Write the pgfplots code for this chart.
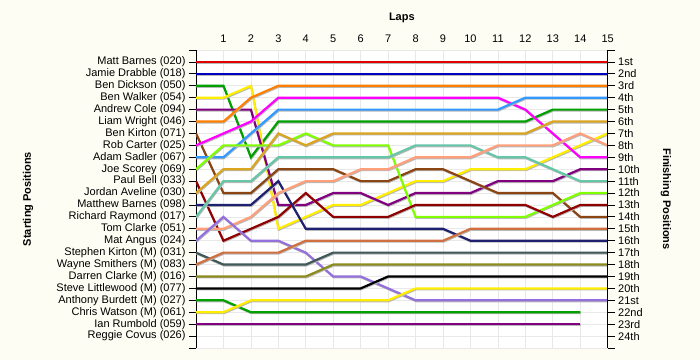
\documentclass[border=0pt]{standalone}
\usepackage{pgfplots}
\pgfplotsset{compat=1.18}
\usepackage{pgfplotstable}
\usepackage{fontspec}
\setmainfont{Liberation Sans}

\definecolor{cream}{HTML}{FEFDF3}
\definecolor{cRed}{HTML}{E00000}
\definecolor{cBlue}{HTML}{0000C0}
\definecolor{cOrange}{HTML}{FF8000}
\definecolor{cLBlue}{HTML}{3399FF}
\definecolor{cGreen}{HTML}{00A000}
\definecolor{cGold}{HTML}{DAA520}
\definecolor{cYellow}{HTML}{FFEE00}
\definecolor{cSalmon}{HTML}{FFA07A}
\definecolor{cMagenta}{HTML}{FF00FF}
\definecolor{cPurple}{HTML}{800080}
\definecolor{cTeal}{HTML}{66C6A8}
\definecolor{cLime}{HTML}{80FF00}
\definecolor{cDRed}{HTML}{900000}
\definecolor{cBrown}{HTML}{8B4513}
\definecolor{cSienna}{HTML}{D07040}
\definecolor{cNavy}{HTML}{202070}
\definecolor{cSlate}{HTML}{405858}
\definecolor{cOlive}{HTML}{8B8B20}
\definecolor{cLav}{HTML}{9370DB}

\pgfplotstableread{
lap MB JD BD BW AC LW BK RC AS JS PB JA MBa RR TC MA SK WS DC SL AB CW IR
0  1 2 3 4 5 6 7 8 9 10 11 12 13 14 15 16 17 18 19 20 21 22 23
1  1 2 3 4 5 6 12 7 9 8 16 10 13 11 15 14 18 17 19 20 21 22 23
2  1 2 9 3 5 4 12 6 7 8 15 10 13 11 14 16 18 17 19 20 22 21 23
3  1 2 6 15 13 3 10 4 5 8 14 7 11 9 12 16 18 17 19 20 22 21 23
4  1 2 6 14 13 3 10 4 5 7 12 8 15 9 11 17 18 16 19 20 22 21 23
5  1 2 6 13 12 3 10 4 5 8 14 7 15 9 11 19 17 16 18 20 22 21 23
6  1 2 6 13 12 3 11 4 5 8 14 7 15 9 10 19 17 16 18 20 22 21 23
7  1 2 6 12 13 3 11 4 5 8 14 7 15 9 10 20 17 16 18 19 22 21 23
8  1 2 6 11 12 3 10 4 5 14 13 7 15 8 9 21 17 16 18 19 22 20 23
9  1 2 6 11 12 3 10 4 5 14 13 7 15 8 9 21 17 16 18 19 22 20 23
10 1 2 6 10 12 3 11 4 5 14 13 7 16 8 9 21 17 15 18 19 22 20 23
11 1 2 6 10 11 3 12 4 5 14 13 7 16 9 8 21 17 15 18 19 22 20 23
12 1 2 6 10 11 3 12 5 4 14 13 7 16 9 8 21 17 15 18 19 22 20 23
13 1 2 5 9 11 3 12 7 4 13 14 6 16 10 8 21 17 15 18 19 22 20 23
14 1 2 5 8 10 3 14 9 4 12 13 6 16 11 7 21 17 15 18 19 22 20 23
15 1 2 5 7 10 3 14 9 4 12 13 6 16 11 8 21 17 15 18 19 nan 20 nan
}\laps

\newcommand{\drv}[2]{%
  \addplot[black!28, line width=1.8bp, xshift=0.6bp, yshift=-1.1bp, forget plot] table[x=lap,y=#2]{\laps};
  \addplot[#1, line width=2.2bp] table[x=lap,y=#2]{\laps};
}

\newcommand{\lblfont}{\fontsize{11bp}{13bp}\selectfont\bfseries}

\pgfplotsset{
  lapbase/.style={
    scale only axis, width=411.7bp, height=298bp,
    xmin=0, xmax=15, ymin=0, ymax=25, y dir=reverse,
    tick align=outside, major tick length=7bp,
    tick label style={font=\fontsize{11bp}{13bp}\selectfont, black},
  }
}

\begin{document}
\begin{tikzpicture}
\fill[cream] (-196bp,-12bp) rectangle (504bp,348bp);
\useasboundingbox (-196bp,-12bp) rectangle (504bp,348bp);
\begin{axis}[
  lapbase,
  axis background/.style={fill=white},
  separate axis lines,
  x axis line style={draw=none},
  y axis line style={black, line width=0.8bp},
  xtick={1,...,15},
  xticklabels={1,2,3,4,5,6,7,8,9,10,11,12,13,14,15},
  xticklabel pos=upper,
  xtick style={draw=none},
  xticklabel style={yshift=-3bp},
  ytick={0,...,25},
  yticklabels={,Matt Barnes (020),Jamie Drabble (018),Ben Dickson (050),Ben Walker (054),Andrew Cole (094),Liam Wright (046),Ben Kirton (071),Rob Carter (025),Adam Sadler (067),Joe Scorey (069),Paul Bell (033),Jordan Aveline (030),Matthew Barnes (098),Richard Raymond (017),Tom Clarke (051),Mat Angus (024),Stephen Kirton (M) (031),Wayne Smithers (M) (083),Darren Clarke (M) (016),Steve Littlewood (M) (077),Anthony Burdett (M) (027),Chris Watson (M) (061),Ian Rumbold (059),Reggie Covus (026),},
  ytick pos=left,
  ytick style={black, line width=0.8bp},
  grid=major,
  grid style={black!9, line width=0.7bp},
  xlabel={Laps},
  every axis x label/.style={at={(axis description cs:0.5,1)}, anchor=center, yshift=32bp, font=\lblfont},
  ylabel={Starting Positions},
  every axis y label/.style={at={(axis description cs:-0.408,0.5)}, rotate=90, anchor=center, font=\lblfont},
]
\drv{cRed}{MB}
\drv{cBlue}{JD}
\drv{cGreen}{BD}
\drv{cYellow}{BW}
\drv{cPurple}{AC}
\drv{cOrange}{LW}
\drv{cBrown}{BK}
\drv{cMagenta}{RC}
\drv{cLBlue}{AS}
\drv{cLime}{JS}
\drv{cDRed}{PB}
\drv{cGold}{JA}
\drv{cNavy}{MBa}
\drv{cTeal}{RR}
\drv{cSalmon}{TC}
\drv{cLav}{MA}
\drv{cSlate}{SK}
\drv{cSienna}{WS}
\drv{cOlive}{DC}
\drv{black}{SL}
\drv{cGreen}{AB}
\drv{cYellow}{CW}
\drv{cPurple}{IR}
\end{axis}
\begin{axis}[
  lapbase,
  axis x line=none,
  axis y line*=right,
  y axis line style={black, line width=0.8bp},
  ytick style={black, line width=0.8bp},
  ytick={0,...,25},
  yticklabels={,1st,2nd,3rd,4th,5th,6th,7th,8th,9th,10th,11th,12th,13th,14th,15th,16th,17th,18th,19th,20th,21st,22nd,23rd,24th,},
  ylabel={Finishing Positions},
  every axis y label/.style={at={(axis description cs:1.1416,0.5)}, rotate=-90, anchor=center, font=\lblfont},
]
\end{axis}
\end{tikzpicture}
\end{document}
